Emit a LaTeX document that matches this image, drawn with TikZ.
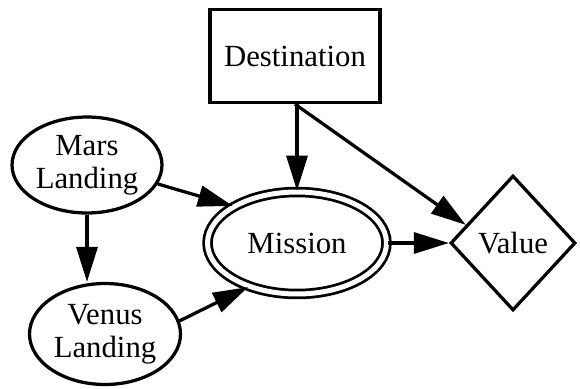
\documentclass[tikz,border=0pt]{standalone}
\usepackage{fontspec}
\setmainfont{Liberation Serif}
\usetikzlibrary{shapes.geometric,arrows.meta}
\begin{document}
\begin{tikzpicture}[x = 0.02cm, y = -0.02cm, line width = 0.065cm,
        every node/.style = {font = \fontsize{17.5}{18.5}\selectfont, align = center, inner sep = 0pt},
        chance/.style = {ellipse, draw},
        arr/.style = {-{Triangle[length = 0.7cm, width = 0.42cm]}}]

            \useasboundingbox (0, 0) rectangle (580, 388);

            \node (dest) at (295, 56) [draw, minimum width = 3.4cm, minimum height = 1.86cm] {Destination};
            \node (mars) at (87, 165) [chance, minimum width = 3.0cm, minimum height = 1.92cm] {Mars\\Landing};
            \node (venus) at (105, 334) [chance, minimum width = 3.02cm, minimum height = 2.02cm] {Venus\\Landing};
            \node (mission) at (297, 243) [chance, double, double distance = 0.1cm, line width = 0.055cm, minimum width = 3.58cm, minimum height = 2.04cm] {Mission};
            \node (value) at (513, 243) [diamond, draw, minimum width = 2.5cm, minimum height = 2.7cm] {Value};

            \draw[arr] (mars.south) -- (mars.south |- venus.north);
            \draw[arr] (mars.-15) -- (mission.150);
            \draw[arr] (venus.10) -- (mission.222);
            \draw[arr] (dest.south -| mission.north) -- (mission.north);
            \draw[arr] (dest.south) -- (value.159);
            \draw[arr] (mission.east) -- (value.west);
        \end{tikzpicture}
\end{document}
